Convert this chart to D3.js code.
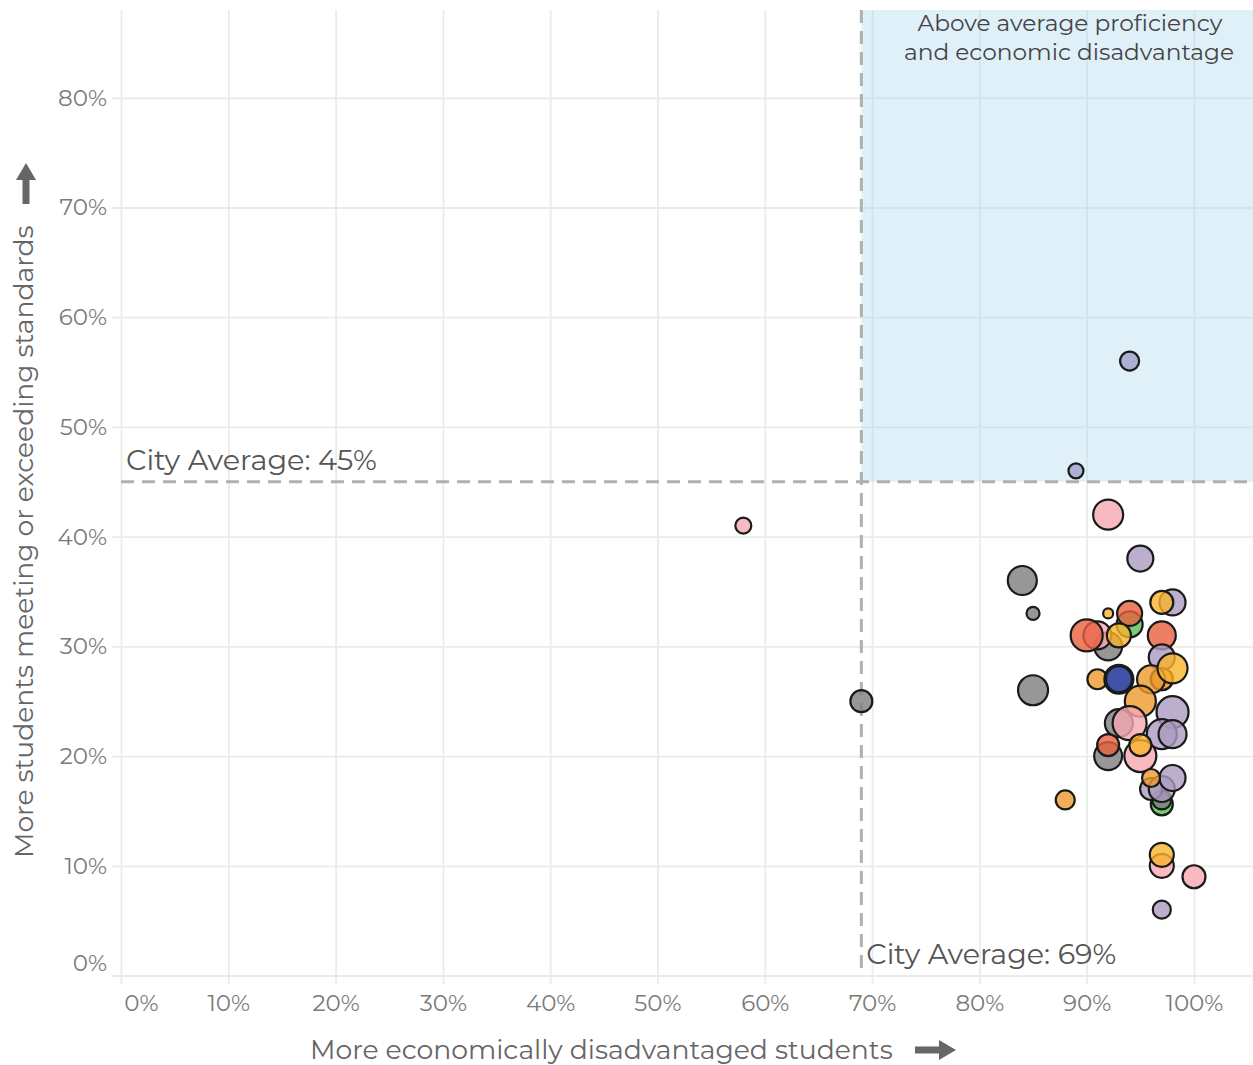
<!DOCTYPE html>
<html><head><meta charset="utf-8">
<script src="https://cdn.jsdelivr.net/npm/d3@7"></script>
<style>body{margin:0;background:#fff} svg{display:block}</style>
</head><body><svg id="chart" width="1253" height="1065"></svg>
<script>
// ---------- data ----------
const xTickValues = [0,10,20,30,40,50,60,70,80,90,100];
const yTickValues = [0,10,20,30,40,50,60,70,80];
const cityAvgDisadvantaged = 69;
const cityAvgProficient = 45;
const groupNames = ["District","Network A","Network B","Network C","Network D","Network E","Network F","Network G","Network H"];
// x: % economically disadvantaged, y: % meeting/exceeding standards
const pctDisadvantaged = [58,69,89,94,92,95,84,85,85,88,92,94,94,98,97,92,91,90,93,97,97,97,97,96,98,91,93,93,95,93,94,98,97,98,92,92,95,95,97,97,96,97,98,96,97,97,100,97];
const pctProficient   = [41,25,46,56,42,38,36,33,26,16,33,32,33,34,34,30,31,31,31,31,29,27,27,27,28,27,27,27,25,23,23,24,22,22,20,21,20,21,15.6,16,17,17,18,18,10,11,9,6];
const enrollment      = [125,237,110,177,441,331,412,83,441,177,49,331,306,331,259,384,384,502,282,384,331,237,237,384,441,196,412,331,471,384,566,502,441,384,384,237,502,237,237,177,237,331,331,159,282,282,259,159];
const schoolGroup     = ["Network A","District","Network H","Network H","Network A","Network B","District","District","District","Network C","Network D","Network F","Network E","Network B","Network D","District","Network A","Network E","Network D","Network E","Network B","Network A","Network C","Network C","Network D","Network C","Network G","Network G","Network C","District","Network A","Network B","Network B","Network B","District","Network E","Network A","Network D","Network F","District","Network B","Network B","Network B","Network C","Network A","Network D","Network A","Network B"];
const quadrantLabel = ["Above average proficiency","and economic disadvantage"];
const xTitle = "More economically disadvantaged students";
const yTitle = "More students meeting or exceeding standards";

// ---------- styles ----------
const palette = ["#7d7d7d","#f6a8b2","#ab9bc0","#ee9a2c","#fab32a","#e85f3d","#55bf55","#3a4aa2","#9da0cb"];
const FONT = "Montserrat, 'DejaVu Sans', sans-serif";

const svg = d3.select("#chart");
const W = 1253, H = 1065;
const x = d3.scaleLinear().domain([0, 105.5]).range([121, 1253]);
const y = d3.scaleLinear().domain([0, 88]).range([975.5, 10]);
const r = d3.scaleSqrt().domain([0, 600]).range([0, 17.5]);
const color = d3.scaleOrdinal().domain(groupNames).range(palette);

function fitWidth(sel, target) {
  const w = sel.node().getComputedTextLength();
  const fs = parseFloat(sel.attr("font-size"));
  sel.attr("font-size", fs * target / w);
  return fs * target / w;
}

// grid via axes
const gx = svg.append("g").attr("transform", "translate(0,984)")
  .call(d3.axisBottom(x).tickValues(xTickValues).tickFormat(d => d + "%")
        .tickSize(-974).tickPadding(11));
const gy = svg.append("g").attr("transform", "translate(112,0)")
  .call(d3.axisLeft(y).tickValues(yTickValues).tickFormat(d => d + "%")
        .tickSize(-(W - 112)).tickPadding(5));
[gx, gy].forEach(g => {
  g.select(".domain").remove();
  g.selectAll(".tick line").attr("stroke", "#ebebeb").attr("stroke-width", 1.8);
  g.selectAll(".tick text").attr("fill", "#7a7a7a").attr("font-family", FONT).attr("font-size", 22);
});
// fit tick font size from "80%"
const t80 = gy.selectAll(".tick text").filter(d => d === 80);
const tickFs = fitWidth(t80, 49);
gx.selectAll(".tick text").attr("font-size", tickFs);
gy.selectAll(".tick text").attr("font-size", tickFs);
gx.selectAll(".tick text").filter(d => d === 0).attr("dx", 20);
gy.selectAll(".tick text").filter(d => d === 0).attr("dy", "-0.2em");

// quadrant shading
svg.append("rect")
  .attr("x", x(cityAvgDisadvantaged)).attr("y", y(88))
  .attr("width", W - x(cityAvgDisadvantaged)).attr("height", y(cityAvgProficient) - y(88))
  .attr("fill", "#a6d4ef").attr("fill-opacity", 0.35);

// average lines
svg.append("line")
  .attr("x1", x(0)).attr("x2", W).attr("y1", y(cityAvgProficient)).attr("y2", y(cityAvgProficient))
  .attr("stroke", "#b0b0b0").attr("stroke-width", 3).attr("stroke-dasharray", "13,8");
svg.append("line")
  .attr("x1", x(cityAvgDisadvantaged)).attr("x2", x(cityAvgDisadvantaged)).attr("y1", y(88)).attr("y2", y(0))
  .attr("stroke", "#b0b0b0").attr("stroke-width", 3).attr("stroke-dasharray", "13,8");

// average labels
const l1 = svg.append("text").attr("x", x(0) + 5).attr("y", 470)
  .attr("font-family", FONT).attr("font-size", 26).attr("fill", "#555").text("City Average: " + cityAvgProficient + "%");
fitWidth(l1, 251);
const l2 = svg.append("text").attr("x", x(cityAvgDisadvantaged) + 5).attr("y", 964)
  .attr("font-family", FONT).attr("font-size", 26).attr("fill", "#555").text("City Average: " + cityAvgDisadvantaged + "%");
fitWidth(l2, 250);

// quadrant label
const q1 = svg.append("text").attr("x", 1070).attr("y", 31).attr("text-anchor", "middle")
  .attr("font-family", FONT).attr("font-size", 22).attr("fill", "#444").text(quadrantLabel[0]);
const qfs = fitWidth(q1, 305);
svg.append("text").attr("x", 1069).attr("y", 60).attr("text-anchor", "middle")
  .attr("font-family", FONT).attr("font-size", qfs).attr("fill", "#444").text(quadrantLabel[1]);

// axis titles
const xt = svg.append("text").attr("x", 310).attr("y", 1059)
  .attr("font-family", FONT).attr("font-size", 26).attr("fill", "#666").text(xTitle);
fitWidth(xt, 583);
const yt = svg.append("text").attr("transform", "translate(33,858) rotate(-90)")
  .attr("font-family", FONT).attr("font-size", 26).attr("fill", "#666").text(yTitle);
fitWidth(yt, 633);

// arrows
const arrowCol = "#666";
svg.append("rect").attr("x", 915).attr("y", 1046.5).attr("width", 28).attr("height", 7).attr("fill", arrowCol);
svg.append("path").attr("d", "M939,1040 L956,1050 L939,1060 Z").attr("fill", arrowCol);
svg.append("rect").attr("x", 22.5).attr("y", 176).attr("width", 7).attr("height", 28).attr("fill", arrowCol);
svg.append("path").attr("d", "M16,180 L26,163 L36,180 Z").attr("fill", arrowCol);

// points
const pts = pctDisadvantaged.map((d, i) => ({x: d, y: pctProficient[i], n: enrollment[i], g: schoolGroup[i]}));
svg.append("g").selectAll("circle").data(pts).join("circle")
  .attr("cx", d => x(d.x)).attr("cy", d => y(d.y)).attr("r", d => r(d.n))
  .attr("fill", d => color(d.g)).attr("fill-opacity", 0.8)
  .attr("stroke", "#1a1a1a").attr("stroke-width", 2.2);
</script></body></html>
